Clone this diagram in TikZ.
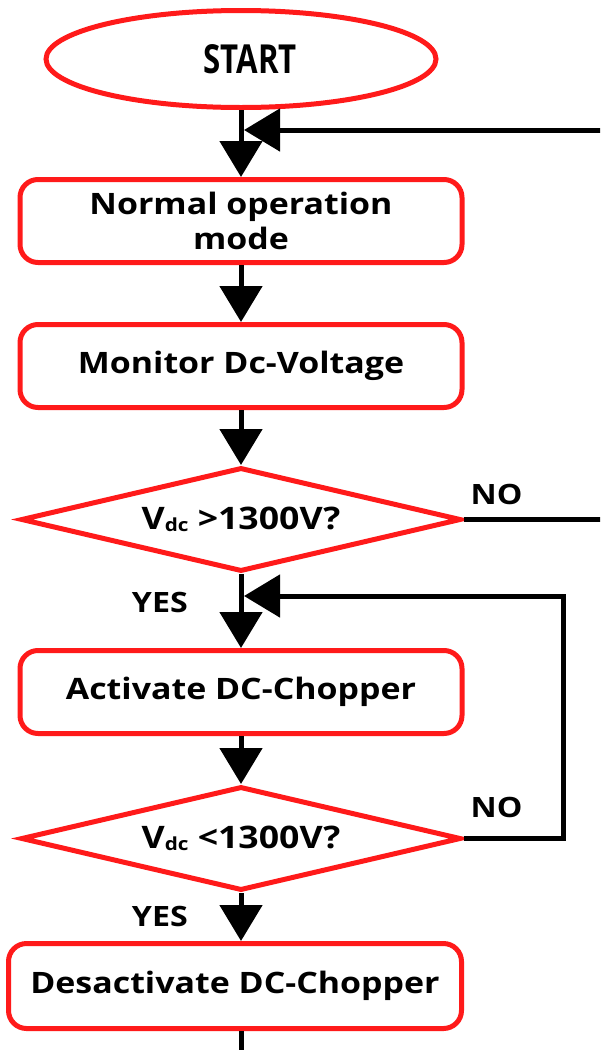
\documentclass[tikz,border=0pt]{standalone}
\usepackage{fontspec}
\setmainfont{Open Sans}[FakeStretch=1.15]
\newfontfamily\startfont{Open Sans}[FakeStretch=0.78]
\usetikzlibrary{shapes.geometric, arrows.meta, positioning}
\definecolor{flowred}{HTML}{FF1A1A}
\newcommand{\vdc}{V\raisebox{-1.5pt}{\fontsize{18}{18}\selectfont dc}}
\tikzset{
  term/.style={ellipse, draw=flowred, line width=5pt, minimum width=390pt, minimum height=97pt, inner sep=0pt, font=\startfont\bfseries\fontsize{40}{40}\selectfont},
  proc/.style={rectangle, rounded corners=18pt, draw=flowred, line width=5pt, minimum width=442pt, minimum height=83pt, align=center, inner sep=0pt, font=\bfseries\fontsize{29.5}{35}\selectfont},
  decide/.style={diamond, aspect=4.2, draw=flowred, line width=5pt, minimum width=440pt, minimum height=104pt, inner sep=0pt, font=\bfseries\fontsize{31}{31}\selectfont},
  lbl/.style={font=\bfseries\fontsize{28}{28}\selectfont, inner sep=0pt},
  arr/.style={-{Triangle[length=36pt, width=42pt]}, line width=5pt, black},
}
\begin{document}
\begin{tikzpicture}[x=1pt, y=1pt, node distance=55pt]
\useasboundingbox (0,0) rectangle (600,-1050);
\clip (0,0) rectangle (600,-1050);
\node[term] (start) at (241,-59) {\hspace*{18pt}START};
\node[proc, below=67pt of start] (norm) {Normal operation\\mode};
\node[proc, below=57pt of norm] (mon) {Monitor Dc-Voltage};
\node[decide, below=55pt of mon] (dec1) {\vdc{} >1300V?};
\node[proc, below=74pt of dec1] (act) {Activate DC-Chopper};
\node[decide, below=48pt of act] (dec2) {\vdc{} <1300V?};
\node[proc, below=48pt of dec2, xshift=-6pt, minimum width=453pt, minimum height=85pt] (des) {Desactivate DC-Chopper};
% branch labels
\node[lbl, above right=15pt and 7pt of dec1.east] (no1) {NO};
\node[lbl, below left=18pt and 53pt of dec1.south] (yes1) {YES};
\node[lbl, above right=21pt and 7pt of dec2.east] (no2) {NO};
\node[lbl, below left=13pt and 53pt of dec2.south] (yes2) {YES};
% loop ends
\coordinate[below=20pt of start.south, xshift=3pt] (back1);
\coordinate[below=22pt of dec1.south, xshift=3pt] (back2);
\coordinate[below=30pt of dec2.south |- des.south] (out);
\draw[arr](start)--(norm);\draw[arr](norm)--(mon);\draw[arr](mon)--(dec1);
\draw[arr](dec1)--(act);\draw[arr](act)--(dec2);\draw[arr](dec2.south)--(dec2.south |- des.north);
\draw[line width=5pt](dec2.south |- des.south)--(out);
\draw[arr](dec1.east)--++(160,0)|-(back1);
\draw[arr](dec2.east)--++(100,0)|-(back2);
\end{tikzpicture}
\end{document}
